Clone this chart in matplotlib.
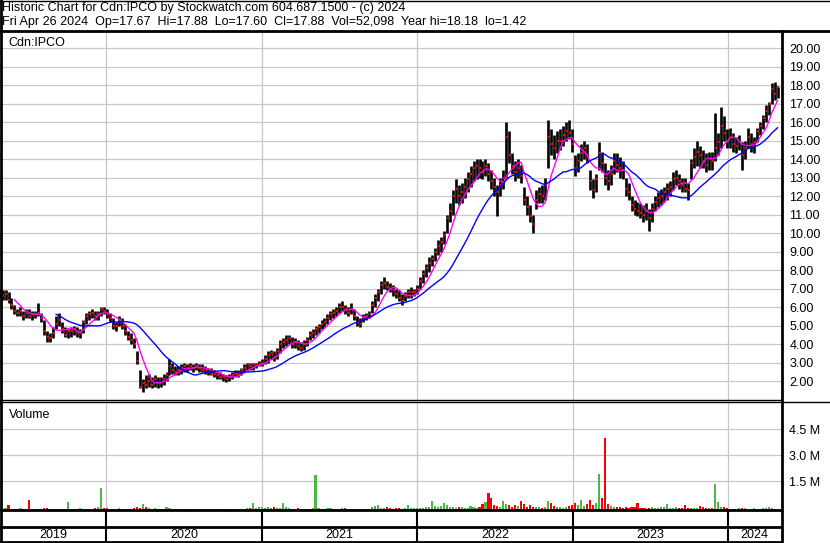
import numpy as np
import pandas as pd
import matplotlib
matplotlib.use("Agg")
import matplotlib.pyplot as plt
from matplotlib.lines import Line2D

plt.rcParams['font.family'] = ['Liberation Sans', 'DejaVu Sans']

# weekly bars, Fri 2019-04-26 .. Fri 2024-04-26
week_start = '2019-04-26'
n_weeks = 262

week_low = [
    # 2019
    6.5, 6.4, 6.4, 6.2, 5.9, 5.6, 5.5, 5.5, 5.3, 5.4, 5.4, 5.3, 5.4, 5.5, 5.2, 4.5, 4.1, 4.1,
    4.3, 4.8, 5.0, 4.6, 4.4, 4.3, 4.4, 4.5, 4.4, 4.3, 4.6, 5.1, 5.3, 5.4, 5.3, 5.3, 5.5, 5.6,
    # 2020
    5.4, 5.2, 4.8, 4.7, 5.0, 4.8, 4.5, 4.2, 4.0, 3.8, 2.9, 1.6, 1.42, 1.6, 1.7, 1.6, 1.7, 1.6,
    1.7, 1.8, 2.0, 2.3, 2.4, 2.3, 2.3, 2.4, 2.5, 2.5, 2.6, 2.5, 2.6, 2.5, 2.5, 2.4, 2.3, 2.3,
    2.2, 2.1, 2.1, 2.0, 1.95, 2.0, 2.1, 2.2, 2.2, 2.3, 2.5, 2.6, 2.6, 2.6, 2.7, 2.8, 2.8,
    # 2021
    2.9, 3.0, 3.2, 3.1, 3.2, 3.5, 3.8, 3.9, 4.0, 3.8, 3.8, 3.7, 3.6, 3.7, 3.9, 4.2, 4.3, 4.5,
    4.6, 4.8, 4.9, 5.1, 5.3, 5.4, 5.5, 5.7, 5.8, 5.6, 5.5, 5.6, 5.3, 5.0, 4.9, 5.2, 5.3, 5.4,
    5.7, 6.0, 6.3, 6.7, 7.0, 6.9, 6.8, 6.6, 6.5, 6.3, 6.1, 6.3, 6.5, 6.5, 6.6, 6.7,
    # 2022
    7.0, 7.3, 7.6, 7.9, 8.2, 8.5, 8.8, 9.0, 9.4, 10.0, 10.6, 11.0, 11.6, 11.5,
    11.6, 11.9, 12.2, 12.5, 12.8, 12.9, 13.0, 12.9, 13.1, 12.8,
    12.4, 12.0, 10.9, 12.0, 12.4, 13.0, 13.8, 13.2, 12.8, 13.0, 12.7,
    11.5, 11.0, 10.6, 10.0, 11.3, 11.6, 11.6, 11.8,
    13.5, 14.2, 14.0, 14.3, 14.5, 14.7, 15.0, 15.1, 14.4,
    # 2023
    13.1, 13.3, 13.9, 14.0, 13.8, 12.3, 11.9, 12.2,
    13.4, 13.3, 12.6, 12.3, 12.6, 13.2, 13.3, 13.0, 12.9,
    12.0, 11.8, 11.2, 11.0, 10.9, 10.8, 10.6, 10.7, 10.1, 10.6,
    11.2, 11.4, 11.5, 11.7, 11.8, 12.0, 12.3, 12.6, 12.4, 12.2, 12.2, 11.8,
    12.9, 13.5, 13.6, 13.5, 13.5, 13.3, 13.4, 13.4, 13.9, 14.2, 14.6, 15.0, 14.6,
    # 2024
    14.6, 14.4, 14.3, 14.5, 13.4, 14.0, 14.6, 14.4, 14.3, 14.9, 15.3, 15.6, 16.0, 16.4,
    17.0, 17.2, 17.3,
]

week_high = [
    # 2019
    7.0, 6.9, 6.9, 6.8, 6.5, 6.1, 5.9, 6.0, 5.8, 5.9, 5.9, 5.8, 5.8, 6.2, 5.7, 5.3, 4.7, 4.6,
    4.9, 5.5, 5.7, 5.2, 4.9, 4.8, 4.9, 5.0, 4.9, 4.8, 5.3, 5.7, 5.8, 5.9, 5.8, 5.8, 6.0, 6.0,
    # 2020
    5.9, 5.7, 5.4, 5.2, 5.5, 5.4, 5.1, 4.7, 4.6, 4.3, 3.6, 2.6, 2.1, 2.3, 2.4, 2.2, 2.3, 2.2,
    2.2, 2.4, 2.5, 3.2, 3.0, 2.8, 2.8, 2.9, 3.0, 2.9, 3.0, 2.9, 3.0, 2.9, 2.9, 2.8, 2.7, 2.7,
    2.6, 2.5, 2.5, 2.4, 2.3, 2.4, 2.5, 2.6, 2.6, 2.7, 2.9, 3.0, 3.0, 3.0, 3.0, 3.1, 3.2,
    # 2021
    3.4, 3.6, 3.7, 3.6, 3.8, 4.2, 4.3, 4.5, 4.5, 4.4, 4.3, 4.2, 4.1, 4.2, 4.4, 4.7, 4.8, 5.0,
    5.1, 5.3, 5.4, 5.6, 5.8, 5.9, 6.0, 6.2, 6.3, 6.1, 6.0, 6.2, 5.9, 5.5, 5.4, 5.6, 5.7, 5.8,
    6.3, 6.7, 7.0, 7.4, 7.6, 7.4, 7.3, 7.2, 7.0, 6.9, 6.7, 6.8, 7.0, 7.1, 7.0, 7.2,
    # 2022
    7.6, 8.0, 8.3, 8.7, 8.8, 9.2, 9.6, 9.8, 10.1, 11.0, 11.6, 12.3, 12.9, 12.6,
    12.7, 13.0, 13.3, 13.6, 13.9, 14.0, 14.0, 13.9, 14.0, 13.8,
    13.4, 13.0, 12.6, 13.0, 13.4, 16.0, 15.5, 14.3, 13.9, 14.0, 13.7,
    12.5, 12.0, 11.5, 11.0, 12.3, 12.5, 12.6, 13.0,
    16.1, 15.6, 15.3, 15.5, 15.6, 15.8, 16.0, 16.1, 15.6,
    # 2023
    14.2, 14.3, 14.8, 15.0, 14.8, 13.4, 12.9, 13.2,
    14.9, 14.4, 13.8, 13.4, 13.7, 14.3, 14.3, 14.1, 13.9,
    13.0, 12.7, 12.0, 11.8, 11.7, 11.6, 11.5, 11.6, 11.3, 11.6,
    12.0, 12.2, 12.4, 12.5, 12.7, 12.8, 13.3, 13.4, 13.2, 13.0, 13.0, 12.7,
    14.0, 14.6, 15.0, 14.7, 14.5, 14.3, 14.4, 14.4, 16.5, 15.4, 16.8, 16.3, 15.6,
    # 2024
    15.7, 15.4, 15.2, 15.3, 14.9, 15.0, 15.7, 15.4, 15.2, 15.7, 16.0, 16.4, 16.9, 17.1,
    18.1, 18.18, 17.9,
]

week_close = [
    # 2019
    6.8, 6.6, 6.7, 6.4, 6.1, 5.8, 5.7, 5.8, 5.5, 5.7, 5.5, 5.6, 5.6, 5.7, 5.4, 4.7, 4.4, 4.3,
    4.6, 5.1, 5.3, 4.8, 4.5, 4.7, 4.7, 4.8, 4.6, 4.6, 5.2, 5.5, 5.6, 5.7, 5.5, 5.6, 5.9, 5.8,
    # 2020
    5.6, 5.4, 5.0, 5.0, 5.3, 5.0, 4.7, 4.4, 4.2, 4.0, 3.1, 1.7, 1.9, 1.8, 2.0, 1.8, 2.1, 1.9,
    1.9, 2.1, 2.3, 2.8, 2.6, 2.5, 2.6, 2.7, 2.8, 2.7, 2.8, 2.7, 2.8, 2.7, 2.6, 2.6, 2.5, 2.4,
    2.4, 2.3, 2.2, 2.2, 2.1, 2.2, 2.3, 2.4, 2.4, 2.6, 2.7, 2.9, 2.8, 2.9, 2.9, 2.9, 3.0,
    # 2021
    3.2, 3.4, 3.5, 3.3, 3.6, 4.0, 4.1, 4.2, 4.3, 4.0, 4.1, 3.9, 3.8, 4.0, 4.2, 4.5, 4.6, 4.8,
    4.9, 5.1, 5.2, 5.4, 5.6, 5.7, 5.8, 6.0, 6.0, 5.9, 5.7, 5.9, 5.5, 5.2, 5.1, 5.4, 5.5, 5.6,
    6.1, 6.5, 6.8, 7.2, 7.3, 7.1, 7.0, 6.9, 6.7, 6.5, 6.3, 6.6, 6.8, 6.8, 6.8, 7.0,
    # 2022
    7.4, 7.8, 8.1, 8.4, 8.6, 9.0, 9.3, 9.5, 9.9, 10.8, 11.2, 12.0, 12.4, 12.0,
    12.2, 12.5, 12.9, 13.2, 13.5, 13.6, 13.5, 13.3, 13.6, 13.2,
    12.8, 12.5, 12.2, 12.6, 13.0, 15.2, 14.2, 13.6, 13.3, 13.5, 13.1,
    11.8, 11.4, 10.9, 10.5, 11.8, 12.1, 12.0, 12.6,
    15.2, 14.8, 14.6, 15.0, 15.0, 15.3, 15.5, 15.4, 14.8,
    # 2023
    13.5, 13.9, 14.3, 14.6, 14.2, 12.8, 12.3, 12.9,
    14.3, 13.8, 13.0, 12.8, 13.2, 13.9, 13.7, 13.5, 13.4,
    12.4, 12.2, 11.5, 11.3, 11.2, 11.1, 11.0, 11.2, 10.8, 11.3,
    11.7, 11.9, 12.0, 12.2, 12.4, 12.5, 12.9, 13.0, 12.8, 12.6, 12.4, 12.3,
    13.8, 14.1, 14.4, 14.2, 13.9, 13.7, 14.0, 13.9, 14.6, 14.9, 15.8, 15.4, 15.0,
    # 2024
    15.2, 14.8, 14.7, 14.9, 14.2, 14.6, 15.2, 14.8, 14.9, 15.5, 15.8, 16.2, 16.6, 17.0,
    17.8, 17.5, 17.88,
]

# typical daily volume in each week, millions
week_volume = [
    # 2019
    0.08, 0.06, 0.10, 0.30, 0.07, 0.05, 0.06, 0.09, 0.05, 0.07, 0.58, 0.06, 0.05, 0.08, 0.07,
    0.09, 0.10, 0.06, 0.05, 0.07, 0.06, 0.08, 0.05, 0.46, 0.06, 0.05, 0.07, 0.09, 0.06, 0.08,
    0.05, 0.07, 0.10, 0.20, 1.27, 0.12,
    # 2020
    0.10, 0.08, 0.06, 0.07, 0.09, 0.06, 0.05, 0.08, 0.07, 0.10, 0.15, 0.12, 0.35, 0.20, 0.10,
    0.08, 0.09, 0.07, 0.06, 0.08, 0.17, 0.10, 0.08, 0.06, 0.07, 0.05, 0.06, 0.08, 0.05, 0.06,
    0.07, 0.05, 0.06, 0.08, 0.05, 0.06, 0.07, 0.05, 0.06, 0.05, 0.06, 0.08, 0.07, 0.05, 0.06,
    0.07, 0.08, 0.10, 0.09, 0.40, 0.12, 0.15, 0.18,
    # 2021
    0.12, 0.20, 0.10, 0.15, 0.09, 0.12, 0.40, 0.18, 0.10, 0.08, 0.07, 0.09, 0.08, 0.06, 0.07,
    0.08, 0.10, 2.00, 0.10, 0.08, 0.07, 0.09, 0.10, 0.08, 0.06, 0.07, 0.09, 0.10, 0.07, 0.06,
    0.08, 0.06, 0.07, 0.05, 0.06, 0.08, 0.15, 0.25, 0.30, 0.14, 0.12, 0.16, 0.10, 0.08, 0.09,
    0.11, 0.07, 0.10, 0.30, 0.12, 0.09, 0.10,
    # 2022
    0.14, 0.12, 0.18, 0.20, 0.52, 0.22, 0.15, 0.25, 0.40, 0.30, 0.18, 0.15, 0.12, 0.20, 0.16,
    0.10, 0.14, 0.22, 0.18, 0.12, 0.20, 0.35, 0.46, 0.98, 0.70, 0.30, 0.25, 0.20, 0.52, 0.35,
    0.28, 0.15, 0.30, 0.22, 0.52, 0.35, 0.20, 0.28, 0.18, 0.15, 0.20, 0.12, 0.18, 0.50, 0.40,
    0.22, 0.15, 0.20, 0.12, 0.18, 0.25, 0.30,
    # 2023
    0.38, 0.30, 0.56, 0.22, 0.35, 0.56, 0.30, 0.40, 2.10, 0.70, 4.15, 0.35, 0.22, 0.18, 0.15,
    0.20, 0.12, 0.16, 0.14, 0.18, 0.15, 0.40, 0.12, 0.10, 0.14, 0.12, 0.16, 0.10, 0.12, 0.15,
    0.18, 0.35, 0.14, 0.12, 0.15, 0.10, 0.13, 0.30, 0.12, 0.10, 0.14, 0.12, 0.25, 0.15, 0.10,
    0.12, 0.14, 1.50, 0.46, 0.20, 0.15, 0.12,
    # 2024
    0.08, 0.06, 0.07, 0.10, 0.09, 0.12, 0.08, 0.07, 0.10, 0.08, 0.07, 0.09, 0.12, 0.18, 0.10,
    0.08, 0.05,
]

price_ticks = list(range(2, 21))
volume_ticks = [1.5, 3.0, 4.5]
years = [2019, 2020, 2021, 2022, 2023, 2024]

header1 = "Historic Chart for Cdn:IPCO by Stockwatch.com 604.687.1500 - (c) 2024"
header2 = ("Fri Apr 26 2024  Op=17.67  Hi=17.88  Lo=17.60  Cl=17.88  "
           "Vol=52,098  Year hi=18.18  lo=1.42")

dates = pd.date_range(week_start, periods=n_weeks, freq='7D')
close = pd.Series(week_close, index=dates)
ma_fast = close.rolling(6).mean()
ma_slow = close.rolling(20).mean()
up = np.r_[True, np.diff(week_close) >= 0]
vol_colors = np.where(up, '#4CB648', '#FF0000')

W, H = 830, 543
fig = plt.figure(figsize=(W / 100, H / 100), dpi=100)

def rect(x0, y0, x1, y1):
    # pixel box (top-left origin) -> figure fraction
    return [x0 / W, 1 - y1 / H, (x1 - x0) / W, (y1 - y0) / H]

def hline(y, x0, x1, lw=1.5):
    fig.add_artist(Line2D([x0 / W, x1 / W], [1 - y / H, 1 - y / H],
                          transform=fig.transFigure, color='black', lw=lw))

def vline(x, y0, y1, lw=1.5):
    fig.add_artist(Line2D([x / W, x / W], [1 - y0 / H, 1 - y1 / H],
                          transform=fig.transFigure, color='black', lw=lw))

xmin, xmax = pd.Timestamp('2019-04-27'), pd.Timestamp('2024-05-04')
grid_c = '#C8C8C8'

# price panel
ax = fig.add_axes(rect(0, 32, 781, 400))
ax.set_xlim(xmin, xmax)
ax.set_ylim(0.973, 20.865)
for p in price_ticks:
    ax.axhline(p, color=grid_c, lw=0.9, zorder=0)
for y in years[1:]:
    ax.axvline(pd.Timestamp(f'{y}-01-01'), color=grid_c, lw=0.9, zorder=0)
ax.vlines(dates, week_low, week_high, color='black', lw=1.9, zorder=2)
ax.plot(dates + pd.Timedelta(days=2), week_close, ls='none', marker='s', ms=1.5,
        mew=0, color='red', zorder=3)
ax.plot(dates, ma_fast, color='#FF00FF', lw=1.0, zorder=4)
ax.plot(dates, ma_slow, color='#0000FF', lw=1.0, zorder=4)
ax.yaxis.tick_right()
ax.set_yticks(price_ticks)
ax.set_yticklabels([f'{p:.2f}' for p in price_ticks])
ax.tick_params(axis='y', length=0, pad=6, labelsize=9)
ax.set_xticks([])
for s in ax.spines.values():
    s.set_visible(False)
ax.text(0.011, 0.97, 'Cdn:IPCO', transform=ax.transAxes, fontsize=9,
        ha='left', va='center')

# volume panel
axv = fig.add_axes(rect(0, 402, 781, 510))
axv.set_xlim(xmin, xmax)
axv.set_ylim(-0.17, 6.06)
for v in volume_ticks:
    axv.axhline(v, color=grid_c, lw=0.9, zorder=0)
for y in years[1:]:
    axv.axvline(pd.Timestamp(f'{y}-01-01'), color=grid_c, lw=0.9, zorder=0)
axv.bar(dates, week_volume, width=5, bottom=-0.17, color=vol_colors, linewidth=0, zorder=2)
axv.yaxis.tick_right()
axv.set_yticks(volume_ticks)
axv.set_yticklabels([f'{v:.1f} M' for v in volume_ticks])
axv.tick_params(axis='y', length=0, pad=6, labelsize=9)
axv.set_xticks([])
for s in axv.spines.values():
    s.set_visible(False)
axv.text(0.011, 0.88, 'Volume', transform=axv.transAxes, fontsize=9,
         ha='left', va='center')

# year band
axb = fig.add_axes(rect(0, 510, 781, 543))
axb.set_xlim(xmin, xmax)
axb.set_ylim(0, 1)
axb.axis('off')
for y in years[1:]:
    axb.axvline(pd.Timestamp(f'{y}-01-01'), color='black', lw=1.5)
for y in years:
    a = max(pd.Timestamp(f'{y}-01-01'), xmin)
    b = min(pd.Timestamp(f'{y + 1}-01-01'), xmax)
    axb.text(a + (b - a) / 2, 0.24, str(y), fontsize=9, ha='center', va='center')

# header and frame
fig.text(2 / W, 1 - 8 / H, header1, fontsize=9, ha='left', va='center')
fig.text(2 / W, 1 - 22 / H, header2, fontsize=9, ha='left', va='center')
hline(31, 0, W, lw=2)
vline(781.5, 31, H, lw=2)
hline(399.5, 0, 781, lw=1)
hline(402, 0, W, lw=1)
hline(510, 0, 781, lw=2)
hline(527, 0, 781, lw=2)
hline(542, 0, 781, lw=2)
vline(0.7, 0, H, lw=2)
hline(0.5, 0, W, lw=1)

fig.savefig('out.png', dpi=100)
